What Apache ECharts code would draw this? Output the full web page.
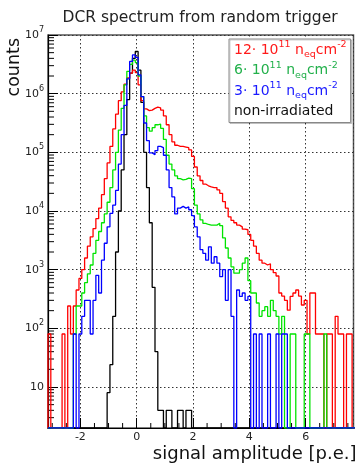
<!DOCTYPE html>
<html>
<head>
<meta charset="utf-8">
<script src="https://cdn.jsdelivr.net/npm/echarts@6/dist/echarts.min.js"></script>
<style>
  html, body { margin: 0; padding: 0; background: #fff; }
  #chart { width: 360px; height: 465px; }
</style>
</head>
<body>
<div id="chart"></div>
<script>
// binning of the histograms: bin i covers binStart + i*binWidth ... + binWidth
const binStart = -3.15;
const binWidth = 0.1;

const seriesNames = ["12e11", "6e11", "3e11", "non-irradiated"];
const fluence = ["12", "6", "3", null];

// counts per bin (0 = empty bin)
const red12 = [
  80, 0, 0, 0, 0, 80, 0, 240, 80, 240,
  450, 710, 1000, 1580, 2510, 3630, 5010, 7400, 11200, 19000,
  35500, 66000, 126000, 251000, 447000, 759000, 1070000, 1450000, 1860000, 2240000,
  2510000, 2290000, 1410000, 759000, 550000, 513000, 525000, 562000, 589000, 575000,
  525000, 417000, 295000, 200000, 151000, 132000, 126000, 126000, 123000, 120000,
  110000, 85100, 56200, 39800, 33100, 28800, 26900, 25700, 25100, 25100,
  22900, 20000, 14500, 11200, 7940, 6920, 6310, 5750, 5370, 4900,
  4790, 3980, 3160, 2510, 1900, 1450, 1290, 1200, 1260, 1000,
  890, 780, 400, 355, 300, 204, 350, 400, 450, 355,
  250, 300, 80, 400, 400, 80, 80, 80, 0, 80,
  80, 0, 160, 80, 80, 0, 80, 80, 0
];
const green6 = [
  0, 0, 0, 0, 0, 0, 0, 0, 0, 80,
  240, 240, 400, 600, 850, 1200, 1900, 3160, 4470, 6310,
  8910, 14100, 25100, 50100, 100000, 240000, 562000, 1410000, 2400000, 3160000,
  3720000, 3390000, 2000000, 891000, 417000, 263000, 229000, 263000, 295000, 302000,
  257000, 166000, 89100, 63100, 50100, 39800, 35500, 33900, 34700, 36300,
  35500, 24000, 12600, 8910, 7080, 6170, 5890, 5750, 5750, 5750,
  6170, 5620, 3470, 2340, 1580, 1120, 870, 870, 1000, 1290,
  1580, 650, 400, 400, 270, 160, 200, 234, 160, 300,
  200, 160, 80, 160, 0, 0, 80, 80, 0, 0,
  0, 80, 80, 0, 0, 0, 0, 0, 80, 0,
  0, 0, 0, 0, 0, 0, 0, 0, 0
];
const blue3 = [
  0, 0, 0, 0, 0, 0, 0, 0, 0, 80,
  0, 80, 160, 300, 300, 80, 300, 800, 400, 1450,
  2820, 5370, 9120, 12600, 22400, 63100, 200000, 631000, 1780000, 3550000,
  4570000, 4170000, 2090000, 891000, 316000, 158000, 97700, 91200, 107000, 126000,
  120000, 89100, 50100, 25100, 17400, 8910, 11200, 12000, 11200, 11750,
  10500, 8320, 5370, 3630, 2190, 1900, 1450, 2450, 1290, 1660,
  1290, 760, 1000, 300, 1000, 160, 0, 450, 350, 400,
  300, 350, 0, 80, 0, 80, 0, 0, 80, 0,
  0, 80, 0, 80, 80, 0, 0, 0, 0, 0,
  0, 0, 0, 0, 0, 0, 0, 0, 0, 0,
  0, 0, 0, 0, 0, 0, 0, 0, 0
];
const black0 = [
  0, 0, 0, 0, 0, 0, 0, 0, 0, 0,
  0, 0, 0, 0, 0, 0, 0, 0, 0, 0,
  0, 8, 24, 160, 2000, 10000, 50100, 200000, 794000, 2240000,
  4000000, 5250000, 2510000, 708000, 100000, 25100, 6310, 500, 40, 4,
  4, 0, 4, 4, 0, 0, 4, 4, 0, 4,
  4, 0, 0, 0, 0, 0, 0, 0, 0, 0,
  0, 0, 0, 0, 0, 0, 0, 0, 0, 0,
  0, 0, 0, 0, 0, 0, 0, 0, 0, 0,
  0, 0, 0, 0, 0, 0, 0, 0, 0, 0,
  0, 0, 0, 0, 0, 0, 0, 0, 0, 0,
  0, 0, 0, 0, 0, 0, 0, 0, 0
];

const xRange = [-3.15, 7.7];
const yRange = [2, 1e7];

const colorConfig = {
  line: ["#ff0000", "#00e400", "#0000ff", "#000000"],
  text: ["#ff1a1a", "#22b04b", "#1a1aff", "#111111"],
};

// histogram -> step polyline, empty bins drop to the bottom of the frame
const toSteps = (counts) => {
  const lvl = (c) => (c > 0 ? c : yRange[0]);
  const pts = [[binStart, yRange[0]]];
  counts.forEach((c, i) => {
    pts.push([+(binStart + i * binWidth).toFixed(3), lvl(c)]);
  });
  pts.push([+(binStart + counts.length * binWidth).toFixed(3), lvl(counts[counts.length - 1])]);
  return pts;
};

// ROOT style minor ticks (2..9 per decade, every 0.5 on x)
const yMinor = [];
for (let e = 0; e < 7; e++) {
  for (let k = 2; k <= 9; k++) {
    const v = k * Math.pow(10, e);
    if (v > yRange[0] && v < yRange[1]) yMinor.push(v);
  }
}
const xMinor = [];
for (let v = -3; v <= 7.5; v += 0.5) {
  if (v % 2 !== 0) xMinor.push(v);
}

const chartDom = document.getElementById("chart");
const myChart = echarts.init(chartDom, null, { renderer: "canvas" });

const supRich = (color, size) => ({
  sup: { fontSize: size, verticalAlign: "top", color: color },
  sub: { fontSize: size, verticalAlign: "bottom", color: color },
});

const histData = [red12, green6, blue3, black0];
// black first so that blue ends up on the bottom edge like the original
const drawOrder = [3, 0, 1, 2];

const lineSeries = drawOrder.map((i) => ({
  name: seriesNames[i],
  type: "line",
  step: "end",
  data: toSteps(histData[i]),
  showSymbol: false,
  symbol: "none",
  silent: true,
  lineStyle: { color: colorConfig.line[i], width: 1.3 },
  itemStyle: { color: colorConfig.line[i] },
}));

const option = {
  animation: false,
  textStyle: { fontFamily: "DejaVu Sans" },
  title: {
    text: "DCR spectrum from random trigger",
    left: 195,
    top: 5,
    textAlign: "center",
    textStyle: { fontSize: 15.5, fontWeight: "normal", color: "#222" },
  },
  grid: {
    left: 48,
    top: 35,
    width: 305.5,
    height: 393,
    show: true,
    borderColor: "#555",
    borderWidth: 1.5,
    backgroundColor: "transparent",
  },
  legend: {
    orient: "vertical",
    left: 229,
    top: 39,
    padding: [1, 4, 1, 0],
    itemGap: 0.5,
    itemWidth: 0,
    itemHeight: 0,
    icon: "rect",
    selectedMode: false,
    backgroundColor: "#fff",
    borderColor: "#888",
    borderWidth: 1,
    shadowColor: "rgba(0,0,0,0.18)",
    shadowOffsetX: 1,
    shadowOffsetY: 1,
    textStyle: { fontSize: 14, lineHeight: 20 },
    data: [0, 1, 2, 3].map((i) => ({
      name: seriesNames[i],
      textStyle: {
        color: colorConfig.text[i],
        fontSize: 14,
        lineHeight: 20,
        rich: supRich(colorConfig.text[i], 9.5),
      },
    })),
    formatter: (name) => {
      const f = fluence[seriesNames.indexOf(name)];
      return f ? `${f}\u00b7 10{sup|11} n{sub|eq}cm{sup|-2}` : name;
    },
  },
  graphic: [
    {
      type: "text",
      x: 14,
      y: 38,
      rotation: Math.PI / 2,
      style: {
        text: "counts",
        align: "right",
        verticalAlign: "middle",
        fontFamily: "DejaVu Sans",
        fontSize: 17.5,
        fill: "#111",
      },
    },
  ],
  xAxis: {
    type: "value",
    min: xRange[0],
    max: xRange[1],
    name: "signal amplitude [p.e.]",
    nameLocation: "end",
    nameGap: 3,
    nameTextStyle: {
      fontSize: 18,
      color: "#111",
      align: "right",
      verticalAlign: "top",
      padding: [17, 0, 0, 0],
    },
    axisLine: { show: true, onZero: false, lineStyle: { color: "#000", width: 1.2 } },
    axisTick: { show: true, inside: true, length: 10, lineStyle: { color: "#000" } },
    axisLabel: {
      showMinLabel: false,
      showMaxLabel: false,
      margin: 4,
      fontSize: 11,
      color: "#222",
    },
    splitLine: { show: true, lineStyle: { type: [1.5, 2.5], color: "#333" } },
  },
  yAxis: {
    type: "log",
    logBase: 10,
    min: yRange[0],
    max: yRange[1],
    axisLine: { show: true, onZero: false, lineStyle: { color: "#000", width: 1.2 } },
    axisTick: { show: true, inside: true, length: 10, lineStyle: { color: "#000" } },
    axisLabel: {
      showMinLabel: false,
      margin: 4,
      color: "#222",
      formatter: (v) => {
        const e = Math.round(Math.log10(v));
        return e === 1 ? "{b|10}" : `{b|10}{sup|${e}}`;
      },
      rich: {
        b: { fontSize: 11, lineHeight: 18, color: "#222" },
        sup: { fontSize: 8, verticalAlign: "top", color: "#222" },
      },
    },
    splitLine: { show: true, lineStyle: { type: [1.5, 2.5], color: "#333" } },
  },
  series: [
    ...lineSeries,
    {
      name: "yMinorTicks",
      type: "custom",
      silent: true,
      data: yMinor.map((v) => [xRange[0], v]),
      renderItem: (params, api) => {
        const p = api.coord([api.value(0), api.value(1)]);
        return {
          type: "line",
          shape: { x1: p[0], y1: p[1], x2: p[0] + 6, y2: p[1] },
          style: { stroke: "#000", lineWidth: 1 },
        };
      },
    },
    {
      name: "xMinorTicks",
      type: "custom",
      silent: true,
      data: xMinor.map((v) => [v, yRange[0]]),
      renderItem: (params, api) => {
        const p = api.coord([api.value(0), api.value(1)]);
        return {
          type: "line",
          shape: { x1: p[0], y1: p[1], x2: p[0], y2: p[1] - 5 },
          style: { stroke: "#000", lineWidth: 1 },
        };
      },
    },
  ],
};

option && myChart.setOption(option);
</script>
</body>
</html>
